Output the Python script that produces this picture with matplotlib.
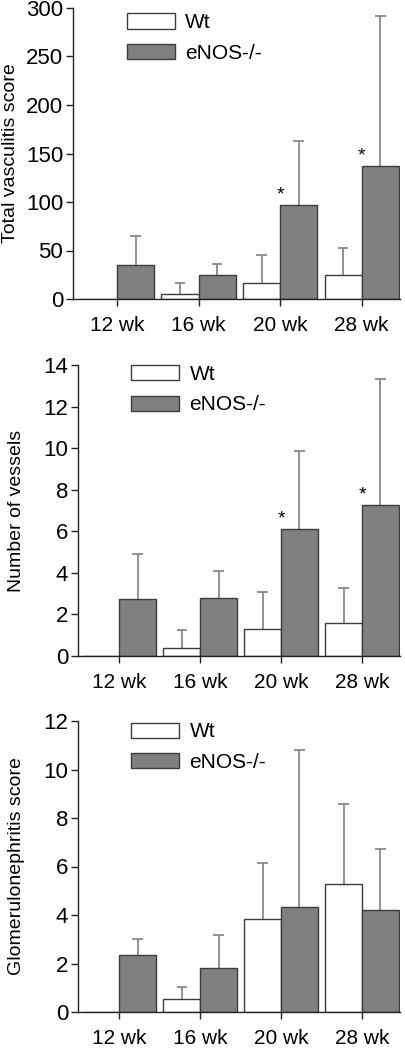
import numpy as np
import matplotlib
matplotlib.use("Agg")
import matplotlib.pyplot as plt
from matplotlib.patches import Patch

plt.rcParams['font.family'] = ['Liberation Sans', 'DejaVu Sans']

weeks = ['12 wk', '16 wk', '20 wk', '28 wk']

# total vasculitis score
vasc_wt = [0, 5.2, 16.5, 24.4]
vasc_wt_err = [0, 16, 45.7, 53]
vasc_ko = [34.7, 24.7, 97.2, 137.5]
vasc_ko_err = [65.3, 36, 162.5, 291.4]

# number of vessels
ves_wt = [0, 0.40, 1.28, 1.60]
ves_wt_err = [0, 1.27, 3.10, 3.27]
ves_ko = [2.73, 2.78, 6.10, 7.26]
ves_ko_err = [4.91, 4.11, 9.87, 13.35]

# glomerulonephritis score
glom_wt = [0, 0.55, 3.84, 5.26]
glom_wt_err = [0, 1.02, 6.13, 8.59]
glom_ko = [2.35, 1.80, 4.34, 4.21]
glom_ko_err = [3.01, 3.16, 10.82, 6.72]

vasc_sig = [False, False, True, True]
ves_sig = [False, False, True, True]
glom_sig = [False, False, False, False]

panels = [
    dict(wt=vasc_wt, wte=vasc_wt_err, ko=vasc_ko, koe=vasc_ko_err, sig=vasc_sig,
         ylim=300, step=50, label='Total vasculitis score',
         pos=[73/405, 751/1050, 327/405, 291/1050], xl=-0.54, leg=0.982, lx=-0.19),
    dict(wt=ves_wt, wte=ves_wt_err, ko=ves_ko, koe=ves_ko_err, sig=ves_sig,
         ylim=14, step=2, label='Number of vessels',
         pos=[78/405, 394/1050, 322/405, 291/1050], xl=-0.51, leg=1.0, lx=-0.19),
    dict(wt=glom_wt, wte=glom_wt_err, ko=glom_ko, koe=glom_ko_err, sig=glom_sig,
         ylim=12, step=2, label='Glomerulonephritis score',
         pos=[78/405, 38/1050, 322/405, 291/1050], xl=-0.51, leg=0.995, lx=-0.19),
]

fig = plt.figure(figsize=(4.05, 10.5), dpi=100)
w = 0.455
x = np.arange(len(weeks))
fill_ko = '#808080'
edge = '#3c3c3c'
ecol = '#808080'

for p in panels:
    ax = fig.add_axes(p['pos'])
    wt = np.array(p['wt']); ko = np.array(p['ko'])
    ax.bar(x - w/2, wt, w, color='white', edgecolor=edge, linewidth=1, zorder=2)
    ax.bar(x + w/2, ko, w, color=fill_ko, edgecolor=edge, linewidth=1, zorder=2)
    for xs, v, e in [(x - w/2, wt, np.array(p['wte'])), (x + w/2, ko, np.array(p['koe']))]:
        m = e > 0
        ax.vlines(xs[m], v[m], e[m], color=ecol, lw=1.2, zorder=1.5)
        ax.hlines(e[m], xs[m] - 0.065, xs[m] + 0.065, color=ecol, lw=1.2, zorder=1.5)
    for i, s in enumerate(p['sig']):
        if s:
            ax.annotate('*', (x[i], ko[i]), xytext=(0, 1), textcoords='offset points',
                        ha='center', va='bottom', fontsize=14)
    ax.set_xlim(p['xl'], 3.47)
    ax.set_ylim(0, p['ylim'])
    ax.set_yticks(np.arange(0, p['ylim'] + 0.1, p['step']))
    ax.set_xticks(x)
    ax.set_xticklabels(weeks)
    ax.spines['top'].set_visible(False)
    ax.spines['right'].set_visible(False)
    for sp in ['left', 'bottom']:
        ax.spines[sp].set_color('#222222')
        ax.spines[sp].set_linewidth(1)
    ax.tick_params(axis='both', direction='out', length=5, width=1, color='#222222')
    ax.tick_params(axis='y', labelsize=16, pad=2)
    ax.tick_params(axis='x', labelsize=15, pad=7)
    ax.set_ylabel(p['label'], fontsize=14, va='center')
    ax.yaxis.set_label_coords(p['lx'] if p['pos'][0] > 0.185 else -0.19, 0.5)
    handles = [Patch(facecolor='white', edgecolor=edge, label='Wt'),
               Patch(facecolor=fill_ko, edgecolor=edge, label='eNOS-/-')]
    ax.legend(handles=handles, loc='upper left', bbox_to_anchor=(0.165, p['leg']),
              frameon=False, fontsize=15, handlelength=2.3, handleheight=0.75,
              handletextpad=0.5, labelspacing=0.55, borderpad=0, borderaxespad=0)

fig.savefig('out.png', dpi=100)
